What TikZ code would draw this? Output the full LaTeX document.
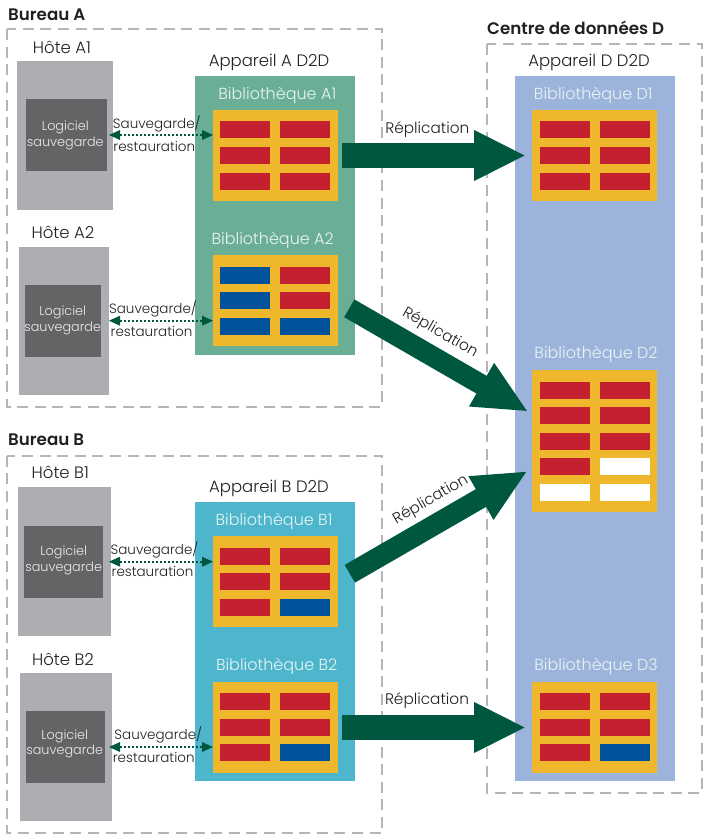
\documentclass[tikz,border=0pt]{standalone}
\usepackage{fontspec}
\setmainfont{Poppins}[UprightFont=* Light,BoldFont=* SemiBold]
\usetikzlibrary{arrows.meta}
\definecolor{cgreen}{HTML}{6AAE96}
\definecolor{cteal}{HTML}{4DB6CC}
\definecolor{cblue}{HTML}{9CB4DB}
\definecolor{cgold}{HTML}{EFB72B}
\definecolor{cred}{HTML}{C4202F}
\definecolor{cnavy}{HTML}{00539B}
\definecolor{chost}{HTML}{ADAEB2}
\definecolor{cinner}{HTML}{636466}
\definecolor{carrow}{HTML}{00573F}
\definecolor{cdash}{HTML}{B6B6B8}
\definecolor{ctext}{HTML}{231F20}
\definecolor{ctitle}{HTML}{E9F4F3}
\tikzset{
  site/.style={draw=cdash,line width=2pt,dash pattern=on 11pt off 6.6pt},
  block/.style={inner sep=0pt,outer sep=0pt,draw=none},
  hostbox/.style={block,fill=chost},
  softbox/.style={block,fill=cinner},
  libbox/.style={block,fill=cgold},
  heading/.style={font=\bfseries\fontsize{16.7}{19}\selectfont,text=ctext,anchor=west,inner sep=0pt},
  label/.style={font=\fontsize{16.5}{19}\selectfont,text=ctext,inner sep=0pt},
  small/.style={font=\fontsize{13.5}{15}\selectfont,text=ctext,inner sep=0pt},
  soft/.style={font=\fontsize{12.8}{15}\selectfont,text=white!88!cinner,inner sep=0pt},
  libtitle/.style={font=\fontsize{16}{19}\selectfont,text=ctitle,inner sep=0pt},
  repl/.style={font=\fontsize{15.3}{18}\selectfont,text=ctext,inner sep=0pt},
  bigarrow/.style={draw=carrow,line width=25pt,-{Triangle[length=52pt,width=47pt,fill=carrow]}},
  slantarrow/.style={draw=carrow,line width=20.5pt,-{Triangle[length=54pt,width=46pt,fill=carrow]}},
  link/.style={draw=carrow,line width=2pt,dash pattern=on 2pt off 2pt,{Triangle[length=11pt,width=10pt,fill=carrow,line width=0pt]}-{Triangle[length=11pt,width=10pt,fill=carrow,line width=0pt]}},
}
\newcommand\rectnode[6]{\node[#2,minimum width={(#5-#3)*1pt},minimum height={(#6-#4)*1pt}] (#1) at ({(#3+#5)/2},{(#4+#6)/2}) {};}
\newcommand\cellrow[4]{\fill[#3] (#1,#2) rectangle ++(50,17.3); \fill[#4] ({#1+60},#2) rectangle ++(50,17.3);}
\begin{document}
\begin{tikzpicture}[x=1pt,y=-1pt]
\useasboundingbox (0,0) rectangle (709,837);
% sites
\draw[site] (7.3,29.3) rectangle (382.3,406.7);
\draw[site] (7.3,455.7) rectangle (382.3,832.7);
\draw[site] (486.7,44) rectangle (702,792.7);
\node[heading] (tA) at (8,15) {Bureau A};
\node[heading] (tB) at (8,440) {Bureau B};
\node[heading] (tD) at (487,28) {Centre de données D};
% hosts
\rectnode{hA1}{hostbox}{17}{61}{112.7}{209.7}
\rectnode{sA1}{softbox}{26}{99}{107}{171}
\rectnode{hA2}{hostbox}{19}{247}{109}{395}
\rectnode{sA2}{softbox}{25}{285}{101}{357}
\rectnode{hB1}{hostbox}{18}{487}{111}{635.7}
\rectnode{sB1}{softbox}{24}{526}{103}{597.7}
\rectnode{hB2}{hostbox}{20}{673}{112}{820.7}
\rectnode{sB2}{softbox}{26}{711}{105}{783}
\node[label] (lhA1) at (62,47) {Hôte A1};
\node[label] (lhA2) at (63,232) {Hôte A2};
\node[label] (lhB1) at (60.3,472.7) {Hôte B1};
\node[label] (lhB2) at (63,659) {Hôte B2};
\node[soft] (a1) at (65.3,127.7) {Logiciel};
\node[soft] (a2) at (65.3,143.3) {sauvegarde};
\node[soft] (b1) at (62.7,312.7) {Logiciel};
\node[soft] (b2) at (62.7,328.3) {sauvegarde};
\node[soft] (c1) at (63.7,552.7) {Logiciel};
\node[soft] (c2) at (63.7,568) {sauvegarde};
\node[soft] (d1) at (64.7,736.7) {Logiciel};
\node[soft] (d2) at (64.7,751.7) {sauvegarde};
% appliances
\rectnode{apA}{block,fill=cgreen}{195}{76}{355}{355}
\rectnode{apB}{block,fill=cteal}{195}{502}{355}{780.7}
\rectnode{apD}{block,fill=cblue}{515}{76}{675}{780.7}
\node[label] (lapA) at (269,62) {Appareil A D2D};
\node[label] (lapB) at (269,488) {Appareil B D2D};
\node[label] (lapD) at (589,62) {Appareil D D2D};
% libraries
\rectnode{libA1}{libbox}{213}{110}{338}{201}
\rectnode{libA2}{libbox}{213}{255.3}{338}{346}
\rectnode{libB1}{libbox}{213}{536}{338}{627}
\rectnode{libB2}{libbox}{213}{682}{338}{773}
\rectnode{libD1}{libbox}{532}{110}{657}{201}
\rectnode{libD2}{libbox}{532}{370}{657}{512}
\rectnode{libD3}{libbox}{532}{682}{657}{773}
\node[libtitle] (lA1) at (277.3,95) {Bibliothèque A1};
\node[libtitle] (lA2) at (272.7,240) {Bibliothèque A2};
\node[libtitle] (lB1) at (274,521) {Bibliothèque B1};
\node[libtitle] (lB2) at (276.7,666.7) {Bibliothèque B2};
\node[libtitle] (lD1) at (593.3,95) {Bibliothèque D1};
\node[libtitle] (lD2) at (596,354.3) {Bibliothèque D2};
\node[libtitle] (lD3) at (596,666.7) {Bibliothèque D3};
% cells
\cellrow{220}{120.7}{cred}{cred}
\cellrow{220}{147}{cred}{cred}
\cellrow{220}{172.7}{cred}{cred}
\cellrow{220}{267}{cnavy}{cred}
\cellrow{220}{292}{cnavy}{cred}
\cellrow{220}{317.7}{cnavy}{cnavy}
\cellrow{220}{548}{cred}{cred}
\cellrow{220}{573}{cred}{cred}
\cellrow{220}{599}{cred}{cnavy}
\cellrow{220}{693}{cred}{cred}
\cellrow{220}{719}{cred}{cred}
\cellrow{220}{744}{cred}{cnavy}
\cellrow{540}{120.7}{cred}{cred}
\cellrow{540}{147}{cred}{cred}
\cellrow{540}{172.7}{cred}{cred}
\cellrow{540}{382}{cred}{cred}
\cellrow{540}{407}{cred}{cred}
\cellrow{540}{432.7}{cred}{cred}
\cellrow{540}{458}{cred}{white}
\cellrow{540}{483.7}{white}{white}
\cellrow{540}{693}{cred}{cred}
\cellrow{540}{719}{cred}{cred}
\cellrow{540}{744}{cred}{cnavy}
% backup labels
\node[small] (k1) at (156.8,124) {Sauvegarde/};
\node[small] (k2) at (154.3,146) {restauration};
\node[small] (m1) at (153,309) {Sauvegarde/};
\node[small] (m2) at (151.5,331) {restauration};
\node[small] (n1) at (154.5,549.7) {Sauvegarde/};
\node[small] (n2) at (152.5,571) {restauration};
\node[small] (p1) at (158.3,734.7) {Sauvegarde/};
\node[small] (p2) at (153.7,757) {restauration};
% backup links
\coordinate (eA1) at (109,135);
\coordinate (eA2) at (109,320.7);
\coordinate (eB1) at (109,561.7);
\coordinate (eB2) at (109,747);
\draw[link] (eA1) -- (eA1 -| libA1.west);
\draw[link] (eA2) -- (eA2 -| libA2.west);
\draw[link] (eB1) -- (eB1 -| libB1.west);
\draw[link] (eB2) -- (eB2 -| libB2.west);
% replication
\coordinate (rS2) at (349.3,308.3);
\coordinate (rE2) at (528.3,411.7);
\coordinate (rS3) at (349.8,573.8);
\coordinate (rE3) at (527.7,471);
\draw[bigarrow] ([xshift=4pt]libA1.east) -- ([xshift=-6pt]libD1.west);
\draw[slantarrow] (rS2) -- (rE2);
\draw[slantarrow] (rS3) -- (rE3);
\draw[bigarrow] ([xshift=4pt]libB2.east) -- ([xshift=-6pt]libD3.west);
\node[repl] (r1) at (427.3,130) {Réplication};
\node[repl,rotate=-30] (r2) at (440,333) {Réplication};
\node[repl,rotate=30,fill=white,inner sep=0.5pt] (r3) at (430.7,500) {Réplication};
\node[repl] (r4) at (427,701) {Réplication};
\end{tikzpicture}
\end{document}
